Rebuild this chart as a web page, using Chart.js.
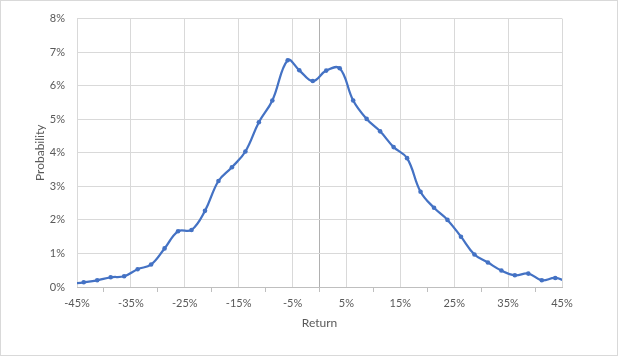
<!DOCTYPE html>
<html>
<head>
<meta charset="utf-8">
<script src="https://cdn.jsdelivr.net/npm/chart.js@4.4.1/dist/chart.umd.min.js"></script>
<style>
  html, body { margin: 0; padding: 0; background: #ffffff; }
  #wrap { width: 618px; height: 356px; position: relative; }
</style>
</head>
<body>
<div id="wrap"><canvas id="c" width="618" height="356"></canvas></div>
<script>
// Return (%) at each point and probability (%)
const returns = [-46.25, -43.75, -41.25, -38.75, -36.25, -33.75, -31.25, -28.75, -26.25, -23.75,
                 -21.25, -18.75, -16.25, -13.75, -11.25, -8.75, -5.9, -3.75, -1.25, 1.25,
                 3.75, 6.25, 8.75, 11.25, 13.75, 16.25, 18.75, 21.25, 23.75, 26.25,
                 28.75, 31.25, 33.75, 36.25, 38.75, 41.25, 43.75, 46.25];
const probability = [0.09, 0.14, 0.20, 0.29, 0.32, 0.53, 0.67, 1.15, 1.66, 1.70,
                     2.27, 3.16, 3.57, 4.04, 4.91, 5.56, 6.76, 6.46, 6.14, 6.45,
                     6.52, 5.56, 5.01, 4.64, 4.17, 3.84, 2.84, 2.36, 2.00, 1.50,
                     0.97, 0.73, 0.49, 0.35, 0.40, 0.20, 0.27, 0.13];
const xAxisTitle = 'Return';
const yAxisTitle = 'Probability';

const FONT = 'Lato, "Open Sans", sans-serif';
const TEXT = '#595959';

const frame = {
  id: 'frame',
  afterDraw(chart) {
    const ctx = chart.ctx;
    ctx.save();
    ctx.strokeStyle = '#d9d9d9';
    ctx.lineWidth = 1;
    ctx.strokeRect(0.5, 0.5, chart.width - 1, chart.height - 1);
    ctx.fillStyle = TEXT;
    ctx.font = '12px ' + FONT;
    ctx.textAlign = 'center';
    ctx.textBaseline = 'middle';
    const a = chart.chartArea;
    ctx.fillText(xAxisTitle, (a.left + a.right) / 2, 323);
    ctx.translate(40.5, (a.top + a.bottom) / 2);
    ctx.rotate(-Math.PI / 2);
    ctx.fillText(yAxisTitle, 0, 0);
    ctx.restore();
  }
};

new Chart(document.getElementById('c'), {
  type: 'line',
  data: {
    datasets: [{
      data: returns.map((r, i) => ({ x: r, y: probability[i] })),
      borderColor: '#4472C4',
      backgroundColor: '#4472C4',
      borderWidth: 2.25,
      pointRadius: 2.3,
      pointStyle: 'circle',
      pointBorderWidth: 0,
      tension: 0.4,
      fill: false
    }]
  },
  options: {
    responsive: false,
    animation: false,
    devicePixelRatio: 1,
    layout: { padding: { left: 0, top: 16, right: 56, bottom: 0 } },
    plugins: { legend: { display: false }, tooltip: { enabled: false } },
    scales: {
      x: {
        type: 'linear',
        min: -45, max: 45,
        afterFit(s) { s.height = 69; },
        ticks: {
          stepSize: 5,
          autoSkip: false,
          maxRotation: 0,
          padding: 5,
          color: TEXT,
          font: { family: FONT, size: 11 },
          callback: v => (Math.abs(v) % 10 === 5 ? v + '%' : '')
        },
        grid: {
          drawTicks: true,
          tickLength: 5,
          color: c => {
            const v = c.tick ? c.tick.value : 0;
            if (v === 0) return '#b0b0b0';
            return Math.abs(v) % 10 === 5 ? '#d9d9d9' : 'rgba(0,0,0,0)';
          },
          tickColor: c => {
            const v = c.tick ? c.tick.value : 0;
            return Math.abs(v) % 10 === 5 ? 'rgba(0,0,0,0)' : '#bfbfbf';
          }
        },
        border: { display: true, color: '#bfbfbf', width: 1 }
      },
      y: {
        min: 0, max: 8,
        afterFit(s) { s.width = 77; },
        ticks: {
          stepSize: 1,
          padding: 12,
          color: TEXT,
          font: { family: FONT, size: 11 },
          callback: v => v + '%'
        },
        grid: { drawTicks: false, color: '#d9d9d9' },
        border: { display: false }
      }
    }
  },
  plugins: [frame]
});
</script>
</body>
</html>
